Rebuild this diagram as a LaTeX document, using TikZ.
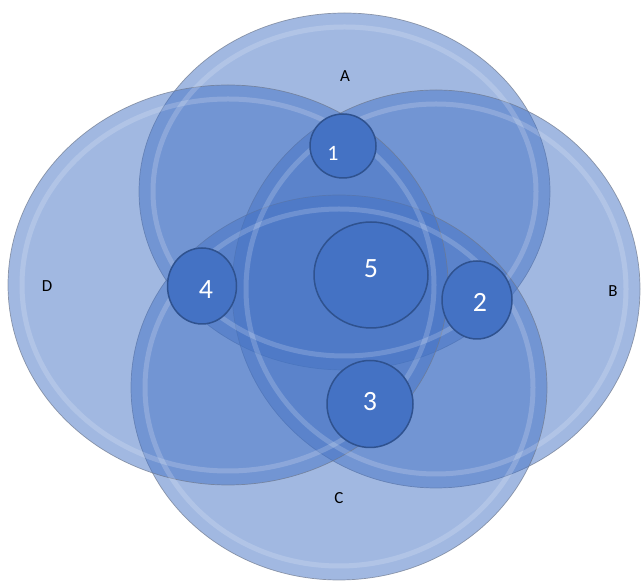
\documentclass[tikz,border=0pt]{standalone}
\usepackage{fontspec}
\setmainfont{Carlito}
\usepackage{tikz}
\usetikzlibrary{shapes.geometric}
\definecolor{accentblue}{RGB}{68, 114, 196}
\definecolor{darkedge}{RGB}{47, 82, 143}
\definecolor{rimgray}{RGB}{110, 120, 140}

\begin{document}
\begin{tikzpicture}[x=1bp, y=1bp,
    setfill/.style={fill=accentblue, fill opacity=0.5, draw=rimgray, draw opacity=0.7, line width=0.7bp},
    rim/.style={draw=white, draw opacity=0.18, line width=5bp},
    region/.style={ellipse, draw=darkedge, line width=1.5bp, fill=accentblue, inner sep=0pt},
    num/.style={text=white, font=\fontsize{28}{32}\selectfont},
    setlabel/.style={text=black, font=\fontsize{17}{20}\selectfont}]
    \useasboundingbox (0,0) rectangle (643,581);

    % Sets
    \path[setfill] (344.5,389.5) ellipse [x radius=205.5, y radius=178.5];
    \path[setfill] (436,292) ellipse [x radius=204, y radius=199];
    \path[setfill] (339,193.5) ellipse [x radius=208, y radius=192.5];
    \path[setfill] (228,296) ellipse [x radius=220, y radius=200];

    % Bevel rims
    \draw[rim] (344.5,389.5) ellipse [x radius=191.5, y radius=164.5];
    \draw[rim] (436,292) ellipse [x radius=190, y radius=185];
    \draw[rim] (339,193.5) ellipse [x radius=194, y radius=178.5];
    \draw[rim] (228,296) ellipse [x radius=206, y radius=186];

    % Set names
    \node (la) [setlabel] at (345,505) {A};
    \node (lb) [setlabel] at (613,290) {B};
    \node (lc) [setlabel] at (339,83) {C};
    \node (ld) [setlabel] at (47,295) {D};

    % Regions
    \node (r1) [region, minimum width=66bp, minimum height=64bp,
        label={[num, font=\fontsize{22}{26}\selectfont, xshift=-10bp, yshift=-7bp]center:1}] at (343,435) {};
    \node (r2) [region, minimum width=70bp, minimum height=78bp,
        label={[num, xshift=3bp, yshift=-2bp]center:2}] at (477,281) {};
    \node (r3) [region, minimum width=86bp, minimum height=87bp,
        label={[num, yshift=2bp]center:3}] at (370,177) {};
    \node (r4) [region, minimum width=69bp, minimum height=76bp,
        label={[num, xshift=4bp, yshift=-4bp]center:4}] at (202,295) {};
    \node (r5) [region, minimum width=114bp, minimum height=106bp,
        label={[num, yshift=6bp]center:5}] at (371,306) {};
\end{tikzpicture}
\end{document}
